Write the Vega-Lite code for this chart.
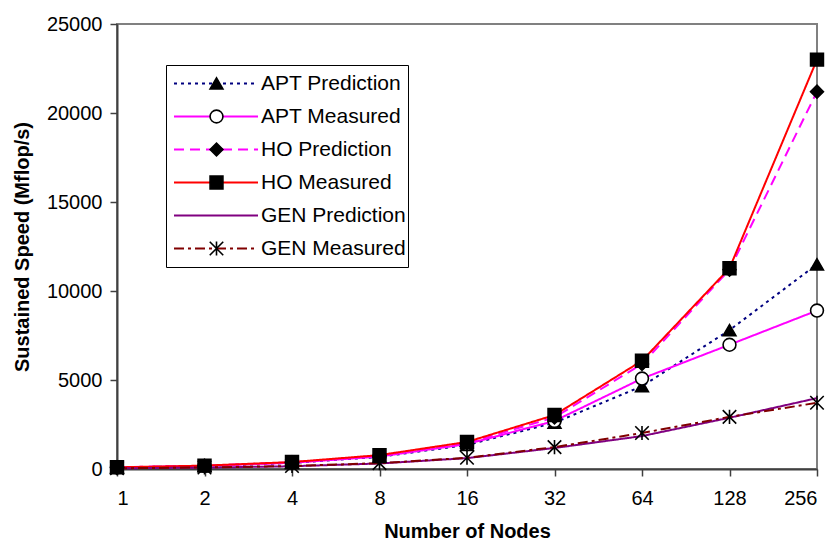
{
  "$schema": "https://vega.github.io/schema/vega-lite/v6.json",
  "width": 700,
  "height": 445,
  "autosize": {"type": "none"},
  "padding": {"left": 117, "top": 24, "right": 18, "bottom": 73},
  "background": "white",
  "config": {
    "font": "Liberation Sans",
    "view": {"stroke": "#808080", "strokeWidth": 2},
    "axis": {
      "grid": false,
      "domainColor": "#404040",
      "domainWidth": 2,
      "tickColor": "#404040",
      "tickWidth": 1.5,
      "tickSize": 7,
      "labelFont": "Liberation Sans",
      "labelFontSize": 20,
      "labelColor": "black",
      "titleFont": "Liberation Sans",
      "titleFontSize": 20,
      "titleFontWeight": "bold",
      "titleColor": "black"
    }
  },
  "data": {
    "values": [
      {"n": 1, "series": "APT Prediction", "v": 85},
      {"n": 2, "series": "APT Prediction", "v": 170},
      {"n": 4, "series": "APT Prediction", "v": 340},
      {"n": 8, "series": "APT Prediction", "v": 680},
      {"n": 16, "series": "APT Prediction", "v": 1350},
      {"n": 32, "series": "APT Prediction", "v": 2600},
      {"n": 64, "series": "APT Prediction", "v": 4650},
      {"n": 128, "series": "APT Prediction", "v": 7800},
      {"n": 256, "series": "APT Prediction", "v": 11500},
      {"n": 1, "series": "APT Measured", "v": 88},
      {"n": 2, "series": "APT Measured", "v": 175},
      {"n": 4, "series": "APT Measured", "v": 350},
      {"n": 8, "series": "APT Measured", "v": 700},
      {"n": 16, "series": "APT Measured", "v": 1400},
      {"n": 32, "series": "APT Measured", "v": 2700},
      {"n": 64, "series": "APT Measured", "v": 5080},
      {"n": 128, "series": "APT Measured", "v": 6980},
      {"n": 256, "series": "APT Measured", "v": 8900},
      {"n": 1, "series": "HO Prediction", "v": 92},
      {"n": 2, "series": "HO Prediction", "v": 185},
      {"n": 4, "series": "HO Prediction", "v": 370},
      {"n": 8, "series": "HO Prediction", "v": 740},
      {"n": 16, "series": "HO Prediction", "v": 1450},
      {"n": 32, "series": "HO Prediction", "v": 2900},
      {"n": 64, "series": "HO Prediction", "v": 5900},
      {"n": 128, "series": "HO Prediction", "v": 11200},
      {"n": 256, "series": "HO Prediction", "v": 21200},
      {"n": 1, "series": "HO Measured", "v": 95},
      {"n": 2, "series": "HO Measured", "v": 190},
      {"n": 4, "series": "HO Measured", "v": 390},
      {"n": 8, "series": "HO Measured", "v": 780},
      {"n": 16, "series": "HO Measured", "v": 1520},
      {"n": 32, "series": "HO Measured", "v": 3030},
      {"n": 64, "series": "HO Measured", "v": 6080},
      {"n": 128, "series": "HO Measured", "v": 11280},
      {"n": 256, "series": "HO Measured", "v": 23000},
      {"n": 1, "series": "GEN Prediction", "v": 40},
      {"n": 2, "series": "GEN Prediction", "v": 78},
      {"n": 4, "series": "GEN Prediction", "v": 155},
      {"n": 8, "series": "GEN Prediction", "v": 310},
      {"n": 16, "series": "GEN Prediction", "v": 610},
      {"n": 32, "series": "GEN Prediction", "v": 1180},
      {"n": 64, "series": "GEN Prediction", "v": 1850},
      {"n": 128, "series": "GEN Prediction", "v": 2880},
      {"n": 256, "series": "GEN Prediction", "v": 3980},
      {"n": 1, "series": "GEN Measured", "v": 42},
      {"n": 2, "series": "GEN Measured", "v": 85},
      {"n": 4, "series": "GEN Measured", "v": 170},
      {"n": 8, "series": "GEN Measured", "v": 330},
      {"n": 16, "series": "GEN Measured", "v": 630},
      {"n": 32, "series": "GEN Measured", "v": 1230},
      {"n": 64, "series": "GEN Measured", "v": 2020},
      {"n": 128, "series": "GEN Measured", "v": 2930},
      {"n": 256, "series": "GEN Measured", "v": 3720}
    ]
  },
  "encoding": {
    "x": {
      "field": "n",
      "type": "quantitative",
      "scale": {"type": "log", "base": 2, "domain": [1, 256]},
      "axis": {
        "values": [1, 2, 4, 8, 16, 32, 64, 128, 256],
        "format": "d",
        "title": "Number of Nodes",
        "labelPadding": 12,
        "titlePadding": 13
      }
    },
    "y": {
      "field": "v",
      "type": "quantitative",
      "scale": {"domain": [0, 25000], "nice": false},
      "axis": {
        "values": [0, 5000, 10000, 15000, 20000, 25000],
        "format": "d",
        "title": "Sustained Speed (Mflop/s)",
        "labelPadding": 8,
        "titlePadding": 14
      }
    }
  },
  "layer": [
    {
      "mark": {"type": "line", "strokeWidth": 2},
      "encoding": {
        "color": {
          "field": "series",
          "type": "nominal",
          "scale": {
            "domain": ["APT Prediction", "APT Measured", "HO Prediction", "HO Measured", "GEN Prediction", "GEN Measured"],
            "range": ["#000080", "#FF00FF", "#FF00FF", "#FF0000", "#800080", "#800000"]
          },
          "legend": {
            "orient": "none", "legendX": 49, "legendY": 41, "title": null,
            "symbolType": "stroke", "symbolSize": 7056, "symbolStrokeWidth": 2,
            "labelFont": "Liberation Sans", "labelFontSize": 21, "labelColor": "black",
            "padding": 2, "symbolOffset": 5, "labelOffset": 2, "clipHeight": 33, "rowPadding": 0,
            "strokeColor": "black", "fillColor": "white"
          }
        },
        "strokeDash": {
          "field": "series",
          "type": "nominal",
          "scale": {
            "domain": ["APT Prediction", "APT Measured", "HO Prediction", "HO Measured", "GEN Prediction", "GEN Measured"],
            "range": [[3, 4], [1, 0], [10, 6], [1, 0], [1, 0], [10, 4, 3, 4]]
          },
          "legend": {
            "orient": "none", "legendX": 49, "legendY": 41, "title": null,
            "symbolType": "stroke", "symbolSize": 7056, "symbolStrokeWidth": 2,
            "labelFont": "Liberation Sans", "labelFontSize": 21, "labelColor": "black",
            "padding": 2, "symbolOffset": 5, "labelOffset": 2, "clipHeight": 33, "rowPadding": 0,
            "strokeColor": "black", "fillColor": "white"
          }
        }
      }
    },
    {
      "mark": {"type": "point", "filled": true, "strokeWidth": 1.6, "size": 165, "opacity": 1},
      "encoding": {
        "shape": {
          "field": "series",
          "type": "nominal",
          "scale": {
            "domain": ["APT Prediction", "APT Measured", "HO Prediction", "HO Measured", "GEN Prediction", "GEN Measured", "none"],
            "range": ["triangle-up", "circle", "diamond", "square", "M0,0", "M-1.05,-1.05L1.05,1.05M-1.05,1.05L1.05,-1.05M0,-1.1L0,1.1", "M0,0"]
          },
          "legend": {
            "orient": "none", "legendX": 82, "legendY": 41, "title": null,
            "values": ["APT Prediction", "APT Measured", "HO Prediction", "HO Measured", "GEN Prediction", "GEN Measured"],
            "symbolSize": 165, "symbolStrokeWidth": 1.6,
            "labelExpr": "''", "labelFontSize": 21,
            "padding": 2, "symbolOffset": 5, "clipHeight": 33, "rowPadding": 0
          }
        },
        "fill": {
          "field": "series",
          "type": "nominal",
          "scale": {
            "domain": ["APT Prediction", "APT Measured", "HO Prediction", "HO Measured", "GEN Prediction", "GEN Measured", "none"],
            "range": ["black", "white", "black", "black", "transparent", "transparent", "transparent"]
          },
          "legend": {
            "orient": "none", "legendX": 82, "legendY": 41, "title": null,
            "values": ["APT Prediction", "APT Measured", "HO Prediction", "HO Measured", "GEN Prediction", "GEN Measured"],
            "symbolSize": 165, "symbolStrokeWidth": 1.6,
            "labelExpr": "''", "labelFontSize": 21,
            "padding": 2, "symbolOffset": 5, "clipHeight": 33, "rowPadding": 0
          }
        },
        "stroke": {
          "field": "series",
          "type": "nominal",
          "scale": {
            "domain": ["APT Prediction", "APT Measured", "HO Prediction", "HO Measured", "GEN Prediction", "GEN Measured", "none"],
            "range": ["black", "black", "black", "black", "black", "black", "black"]
          },
          "legend": {
            "orient": "none", "legendX": 82, "legendY": 41, "title": null,
            "values": ["APT Prediction", "APT Measured", "HO Prediction", "HO Measured", "GEN Prediction", "GEN Measured"],
            "symbolSize": 165, "symbolStrokeWidth": 1.6,
            "labelExpr": "''", "labelFontSize": 21,
            "padding": 2, "symbolOffset": 5, "clipHeight": 33, "rowPadding": 0
          }
        }
      }
    }
  ]
}
